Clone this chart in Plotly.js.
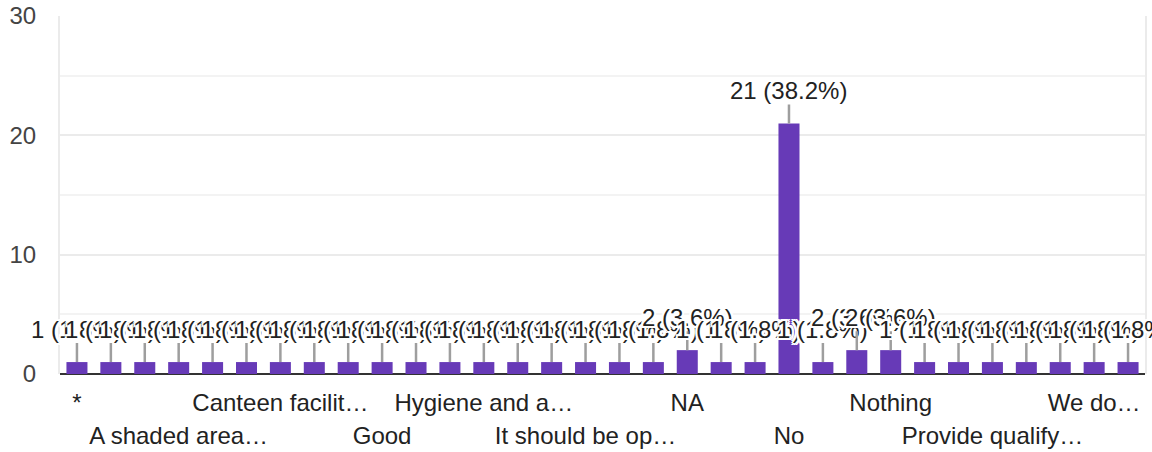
<!DOCTYPE html>
<html>
<head>
<meta charset="utf-8">
<script src="https://cdn.plot.ly/plotly-3.0.1.min.js"></script>
<style>
  html, body { margin: 0; padding: 0; background: #fff; }
  #chart { width: 1152px; height: 452px; }
</style>
</head>
<body>
<div id="chart"></div>
<script>
// Responses (32 answers, sorted alphabetically; only every third label is shown on the axis)
const tickLabels = [
  "*", "", "", "A shaded area…", "", "",
  "Canteen facilit…", "", "", "Good", "", "",
  "Hygiene and a…", "", "", "It should be op…", "", "",
  "NA", "", "", "No", "", "",
  "Nothing", "", "", "Provide qualify…", "", "",
  "We do…", ""
];
const counts = [
  1, 1, 1, 1, 1, 1,
  1, 1, 1, 1, 1, 1,
  1, 1, 1, 1, 1, 1,
  2, 1, 1, 21, 1, 2,
  2, 1, 1, 1, 1, 1,
  1, 1
];
const yTicks = [0, 10, 20, 30];

const total = counts.reduce((a, b) => a + b, 0);
const xs = counts.map((_, i) => i);

// split visible labels into two alternating rows
const shown = tickLabels.map((t, i) => ({t, i})).filter(o => o.t !== "");
const row1 = shown.filter((_, k) => k % 2 === 0);
const row2 = shown.filter((_, k) => k % 2 === 1);

const FONT = '"Liberation Sans", Arial, Helvetica, sans-serif';
const halo = "2px 0 0 #fff, -2px 0 0 #fff, 0 2px 0 #fff, 0 -2px 0 #fff, 2px 2px 0 #fff, -2px -2px 0 #fff, 2px -2px 0 #fff, -2px 2px 0 #fff";

const annotations = counts.map((v, i) => ({
  x: i, y: v, xref: 'x', yref: 'y',
  text: v + ' (' + (v / total * 100).toFixed(1) + '%)',
  showarrow: true, arrowhead: 0, arrowwidth: 2.5, arrowcolor: '#9e9e9e',
  ax: 0, ay: -33, standoff: 0, startstandoff: 0,
  font: {family: FONT, size: 24, color: '#222222', shadow: halo},
  borderpad: 0
}));

const trace = {
  type: 'bar',
  x: xs,
  y: counts,
  marker: {color: '#673ab7'},
  hoverinfo: 'skip',
  xaxis: 'x', yaxis: 'y'
};

// invisible companion trace so the second label row (xaxis2) is drawn
const rowTrace = {
  type: 'scatter', mode: 'markers',
  x: xs, y: counts,
  marker: {opacity: 0, size: 1},
  hoverinfo: 'skip', showlegend: false,
  xaxis: 'x2', yaxis: 'y'
};

const layout = {
  width: 1152, height: 452,
  margin: {l: 60, r: 7, t: 16, b: 78, pad: 0},
  paper_bgcolor: '#ffffff', plot_bgcolor: '#ffffff',
  bargap: 0.38,
  showlegend: false,
  font: {family: FONT, size: 24, color: '#222222'},
  xaxis: {
    range: [-0.5, counts.length - 0.5],
    showgrid: false, zeroline: false, showline: false,
    tickmode: 'array',
    tickvals: row1.map(o => o.i), ticktext: row1.map(o => o.t),
    tickangle: 0, ticks: '', ticklabelstandoff: 12,
    tickfont: {family: FONT, size: 24, color: '#222222'},
    fixedrange: true
  },
  xaxis2: {
    overlaying: 'x', anchor: 'y', side: 'bottom',
    range: [-0.5, counts.length - 0.5],
    showgrid: false, zeroline: false, showline: false,
    tickmode: 'array',
    tickvals: row2.map(o => o.i), ticktext: row2.map(o => o.t),
    tickangle: 0, ticks: '', ticklabelstandoff: 45,
    tickfont: {family: FONT, size: 24, color: '#222222'},
    fixedrange: true
  },
  yaxis: {
    range: [0, 30],
    tickmode: 'array', tickvals: yTicks, ticktext: yTicks.map(String),
    showgrid: true, gridcolor: '#ebebeb', gridwidth: 2,
    minor: {dtick: 5, showgrid: true, gridcolor: '#f3f3f3', gridwidth: 2, ticks: ''},
    zeroline: true, zerolinecolor: '#333333', zerolinewidth: 2.5,
    showline: true, mirror: true, linecolor: '#ebebeb', linewidth: 2,
    ticks: '', ticklabelstandoff: 17,
    tickfont: {family: FONT, size: 24, color: '#444444'},
    fixedrange: true
  },
  annotations: annotations
};

Plotly.newPlot('chart', [trace, rowTrace], layout, {staticPlot: true, displayModeBar: false});
</script>
</body>
</html>
